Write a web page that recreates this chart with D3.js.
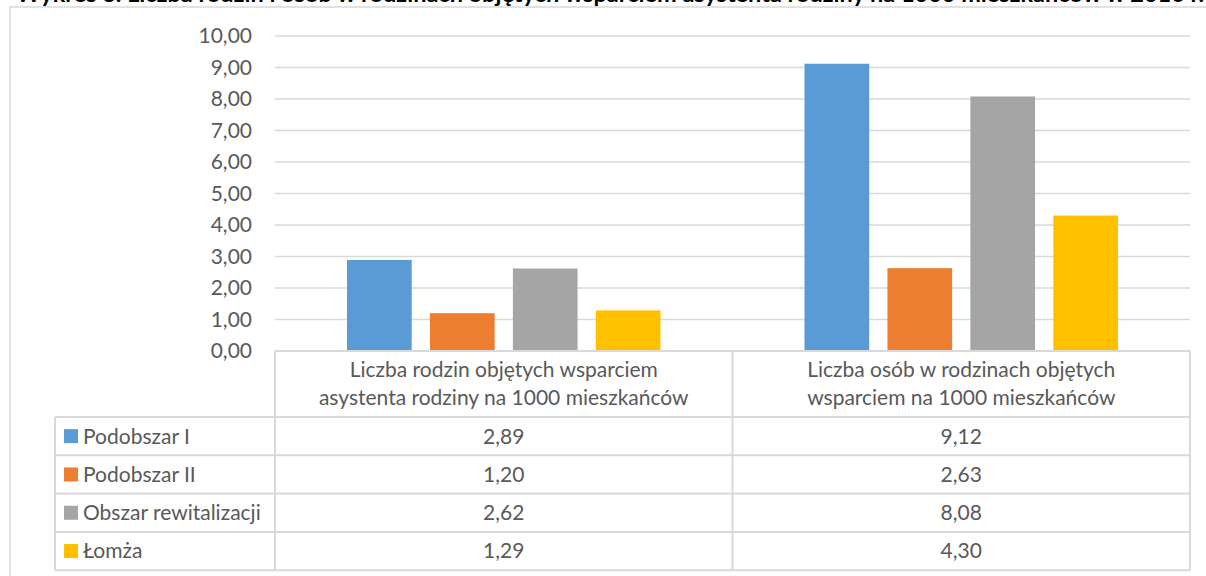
<!DOCTYPE html>
<html>
<head>
<meta charset="utf-8">
<script src="https://cdn.jsdelivr.net/npm/d3@7"></script>
<style>
  body { margin: 0; background: #fff; }
  svg { display: block; font-family: Lato, "Open Sans", sans-serif; }
</style>
</head>
<body>
<div id="chart"></div>
<script>
var title = 'Wykres 3. Liczba rodzin i osób w rodzinach objętych wsparciem asystenta rodziny na 1000 mieszkańców w 2016 r.';
var categories = [
  ['Liczba rodzin objętych wsparciem', 'asystenta rodziny na 1000 mieszkańców'],
  ['Liczba osób w rodzinach objętych', 'wsparciem na 1000 mieszkańców']
];
var seriesNames = ['Podobszar I', 'Podobszar II', 'Obszar rewitalizacji', 'Łomża'];
var seriesColors = ['#5b9bd5', '#ed7d31', '#a5a5a5', '#ffc000'];
var podobszar1 = [2.89, 9.12];
var podobszar2 = [1.20, 2.63];
var obszarRew = [2.62, 8.08];
var lomza = [1.29, 4.30];
var yTicks = [0, 1, 2, 3, 4, 5, 6, 7, 8, 9, 10];

(function(){
  var values = [podobszar1, podobszar2, obszarRew, lomza];
  var fmt = function(v){ return d3.format('.2f')(v).replace('.', ','); };

  var W = 1206, H = 576;
  var plotLeft = 275, plotRight = 1190, plotTop = 36, base = 351;
  var rowTop = 417, rowH = 38.3, legendLeft = 55;
  var grey = '#d9d9d9', txt = '#595959', fs = 21;

  var svg = d3.select('#chart').append('svg').attr('width', W).attr('height', H);

  // frame
  svg.append('rect').attr('x', 10).attr('y', 7).attr('width', W + 20).attr('height', H + 20)
    .attr('fill', 'none').attr('stroke', grey).attr('stroke-width', 1.5);

  // title, cut off at the top
  svg.append('text').attr('x', 16).attr('y', 2).attr('fill', '#000')
    .attr('font-weight', 'bold').attr('font-size', 23.5).text(title);

  var y = d3.scaleLinear().domain([0, 10]).range([base, plotTop]);
  var x0 = d3.scaleBand().domain(d3.range(categories.length)).range([plotLeft, plotRight]);
  var x1 = d3.scaleBand().domain(d3.range(seriesNames.length))
    .range([72, x0.bandwidth() - 72]).paddingInner(0.22);

  // gridlines
  svg.append('g').selectAll('line').data(yTicks.slice(1)).enter().append('line')
    .attr('x1', plotLeft).attr('x2', plotRight)
    .attr('y1', function(d){ return y(d); }).attr('y2', function(d){ return y(d); })
    .attr('stroke', grey).attr('stroke-width', 1.5);

  // y labels
  svg.append('g').selectAll('text').data(yTicks).enter().append('text')
    .attr('x', 252).attr('y', function(d){ return y(d); }).attr('dy', '0.35em')
    .attr('text-anchor', 'end').attr('fill', txt).attr('font-size', fs)
    .text(fmt);

  // bars
  var groups = svg.append('g').selectAll('g').data(categories).enter().append('g')
    .attr('transform', function(d, i){ return 'translate(' + x0(i) + ',0)'; });
  groups.selectAll('rect').data(function(d, i){
      return values.map(function(s, k){ return {k: k, v: s[i]}; });
    }).enter().append('rect')
    .attr('x', function(d){ return x1(d.k); })
    .attr('width', x1.bandwidth())
    .attr('y', function(d){ return y(d.v); })
    .attr('height', function(d){ return base - y(d.v); })
    .attr('fill', function(d){ return seriesColors[d.k]; });

  // data table
  var tbl = svg.append('g').attr('stroke', grey).attr('stroke-width', 2).attr('fill', 'none');
  tbl.append('line').attr('x1', plotLeft).attr('x2', plotRight).attr('y1', base).attr('y2', base);
  d3.range(seriesNames.length + 1).forEach(function(r){
    tbl.append('line').attr('x1', legendLeft).attr('x2', plotRight)
      .attr('y1', rowTop + r * rowH).attr('y2', rowTop + r * rowH);
  });
  var bottom = rowTop + seriesNames.length * rowH;
  tbl.append('line').attr('x1', legendLeft).attr('x2', legendLeft).attr('y1', rowTop).attr('y2', bottom);
  d3.range(categories.length + 1).forEach(function(c){
    var xx = plotLeft + c * x0.bandwidth();
    tbl.append('line').attr('x1', xx).attr('x2', xx).attr('y1', base).attr('y2', bottom);
  });

  // category headers
  svg.append('g').selectAll('text').data(categories).enter().append('text')
    .attr('text-anchor', 'middle').attr('fill', txt).attr('font-size', fs)
    .attr('x', function(d, i){ return x0(i) + x0.bandwidth() / 2; })
    .each(function(d){
      var t = d3.select(this);
      d.forEach(function(line, j){
        t.append('tspan').attr('x', t.attr('x')).attr('y', 377 + j * 28).text(line);
      });
    });

  // legend column + values
  seriesNames.forEach(function(name, k){
    var cy = rowTop + k * rowH + rowH / 2;
    svg.append('rect').attr('x', 64).attr('y', cy - 7).attr('width', 14).attr('height', 14)
      .attr('fill', seriesColors[k]);
    svg.append('text').attr('x', 83).attr('y', cy).attr('dy', '0.35em')
      .attr('fill', txt).attr('font-size', fs).text(name);
    values[k].forEach(function(v, i){
      svg.append('text').attr('x', x0(i) + x0.bandwidth() / 2).attr('y', cy).attr('dy', '0.35em')
        .attr('text-anchor', 'middle').attr('fill', txt).attr('font-size', fs).text(fmt(v));
    });
  });
})();
</script>
</body>
</html>
